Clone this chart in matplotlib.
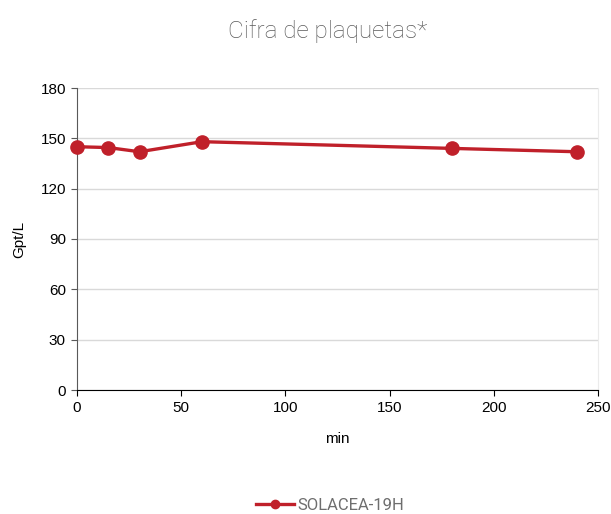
import matplotlib
matplotlib.use("Agg")
import matplotlib.pyplot as plt
from matplotlib.lines import Line2D

minutes = [0, 15, 30, 60, 180, 240]
platelets = [145, 144.5, 142, 148, 144, 142]
series_name = "SOLACEA-19H"
y_ticks = [0, 30, 60, 90, 120, 150, 180]
x_ticks = [0, 50, 100, 150, 200, 250]

red = "#C0202A"
fig = plt.figure(figsize=(6.11, 5.14), dpi=100)
ax = fig.add_axes([77/611, 1-390/514, (598-77)/611, (390-88)/514])

ax.plot(minutes, platelets, color=red, lw=2.4, marker="o", ms=9.5, zorder=3, clip_on=False)
ax.set_xlim(0, 250)
ax.set_ylim(0, 180)
ax.set_xticks(x_ticks)
ax.set_yticks(y_ticks)
ax.grid(axis="y", color="#D9D9D9", lw=1)
ax.set_axisbelow(True)
ax.spines["top"].set_visible(False)
ax.spines["right"].set_color("#EBEBEB")
ax.spines["left"].set_color("#595959")
ax.spines["bottom"].set_color("black")
ax.tick_params(axis="both", direction="out", length=4, labelsize=11,
               labelfontfamily="Liberation Sans")
ax.tick_params(axis="y", color="#595959", pad=4)
ax.tick_params(axis="x", pad=4)
ax.set_xlabel("min", fontsize=11, family="Liberation Sans", labelpad=12)
ax.set_ylabel("Gpt/L", fontsize=11, family="Liberation Sans", labelpad=10)

fig.text(0.537, 1-31/514, "Cifra de plaquetas*", ha="center", va="center",
         fontsize=17.5, color="#5A5A5A", family="Roboto", fontweight="light")

handle = Line2D([], [], color=red, lw=2.4, marker="o", ms=6)
fig.legend([handle], [series_name], loc="center", bbox_to_anchor=(0.54, 1-505/514),
           frameon=False, handlelength=2.3, handletextpad=0.15,
           prop={"family": "Roboto", "size": 12}, labelcolor="#6E6E6E")

fig.savefig("out.png", dpi=100)
